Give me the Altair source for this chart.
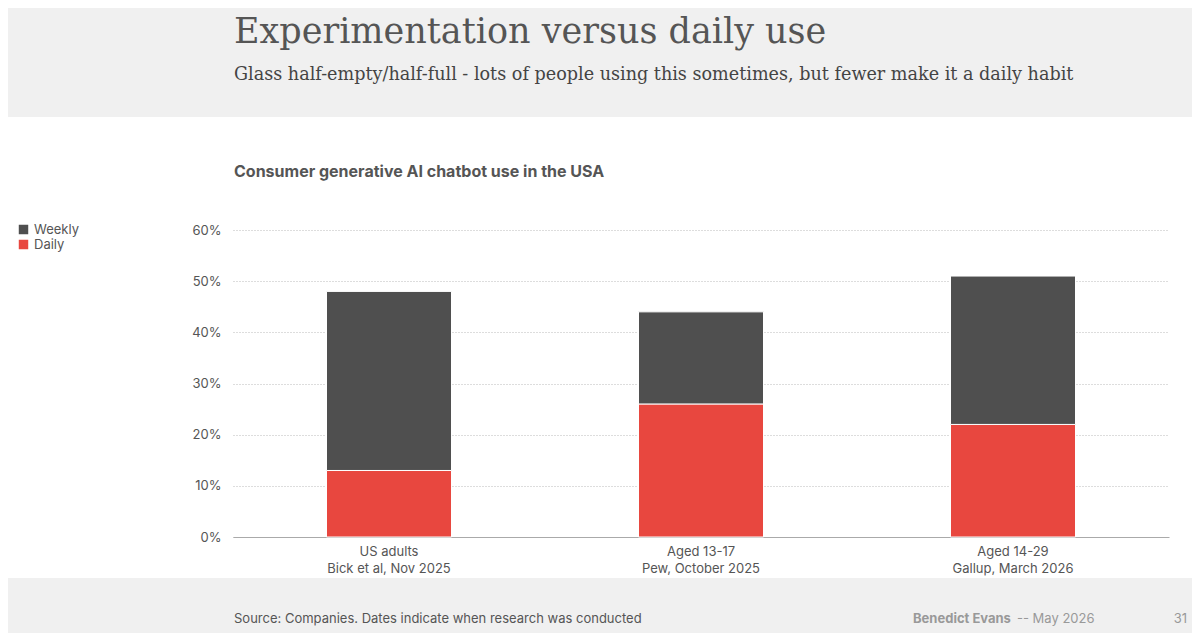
import altair as alt
import pandas as pd

GROUPS = ["US adults|Bick et al, Nov 2025", "Aged 13-17|Pew, October 2025", "Aged 14-29|Gallup, March 2026"]
DAILY = [13, 26, 22]
TOTAL = [48, 44, 51]
SERIES = ["Weekly", "Daily"]
COLORS = ["#4f4f4f", "#e8473f"]

rows = []
for g, d, t in zip(GROUPS, DAILY, TOTAL):
    rows.append({"group": g, "series": "Daily", "lo": 0, "hi": d / 100})
    rows.append({"group": g, "series": "Weekly", "lo": d / 100, "hi": t / 100})
df = pd.DataFrame(rows)

W, H = 936, 307
SANS = "Inter"
SERIF = "DejaVu Serif"

bars = alt.Chart(df).mark_bar(width=125, stroke="white", strokeWidth=1).encode(
    x=alt.X("group:N", sort=GROUPS, title=None,
            axis=alt.Axis(labelExpr="split(datum.label, '|')", labelAngle=0, labelFont=SANS,
                          labelFontSize=13, labelColor="#555", labelPadding=8, ticks=False,
                          domainColor="#aaa", labelLineHeight=17)),
    y=alt.Y("lo:Q", scale=alt.Scale(domain=[0, 0.6]), title=None,
            axis=alt.Axis(format=".0%", values=[0, 0.1, 0.2, 0.3, 0.4, 0.5, 0.6],
                          labelOverlap=False, domain=False, ticks=False, gridDash=[1, 2],
                          gridColor="#bbb", labelFont=SANS, labelFontSize=13,
                          labelColor="#555", labelPadding=12)),
    y2="hi:Q",
    color=alt.Color("series:N", scale=alt.Scale(domain=SERIES, range=COLORS),
                    legend=alt.Legend(title=None, orient="none", legendX=-216, legendY=-7,
                                      symbolType="square", symbolSize=120, symbolOpacity=1,
                                      labelFont=SANS, labelFontSize=13, labelColor="#555",
                                      rowPadding=-2)),
)

def band(y0, y1):
    return alt.Chart(pd.DataFrame({"a": [0]})).mark_rect(color="#f0f0f0").encode(
        x=alt.value(-240), x2=alt.value(980), y=alt.value(y0), y2=alt.value(y1))

def txt(s, x, y, size, font=SANS, color="#555", weight="normal", align="left"):
    return alt.Chart(pd.DataFrame({"t": [s]})).mark_text(
        align=align, baseline="alphabetic", font=font, fontSize=size, color=color,
        fontWeight=weight).encode(x=alt.value(x), y=alt.value(y), text="t:N")

chart = alt.layer(
    band(-240, -113), band(348, 420),
    bars,
    txt("Experimentation versus daily use", 1, -187, 35, SERIF, "#555"),
    txt("Glass half-empty/half-full - lots of people using this sometimes, but fewer make it a daily habit",
        1, -150, 17.6, SERIF, "#444"),
    txt("Consumer generative AI chatbot use in the USA", 1, -53, 16, SANS, "#555", "bold"),
    txt("Source: Companies. Dates indicate when research was conducted", 1, 393, 13),
    txt("Benedict Evans", 680, 393, 13, SANS, "#999", "bold"),
    txt("--  May 2026", 784, 393, 13, SANS, "#999"),
    txt("31", 954, 393, 13, SANS, "#999", align="right"),
).properties(
    width=W, height=H, autosize=alt.AutoSizeParams(type="none"),
    padding={"left": 225, "top": 222, "right": 23, "bottom": 96},
).configure_view(stroke=None)

chart.save("out.html", embed_options={"renderer": "svg", "actions": False})
